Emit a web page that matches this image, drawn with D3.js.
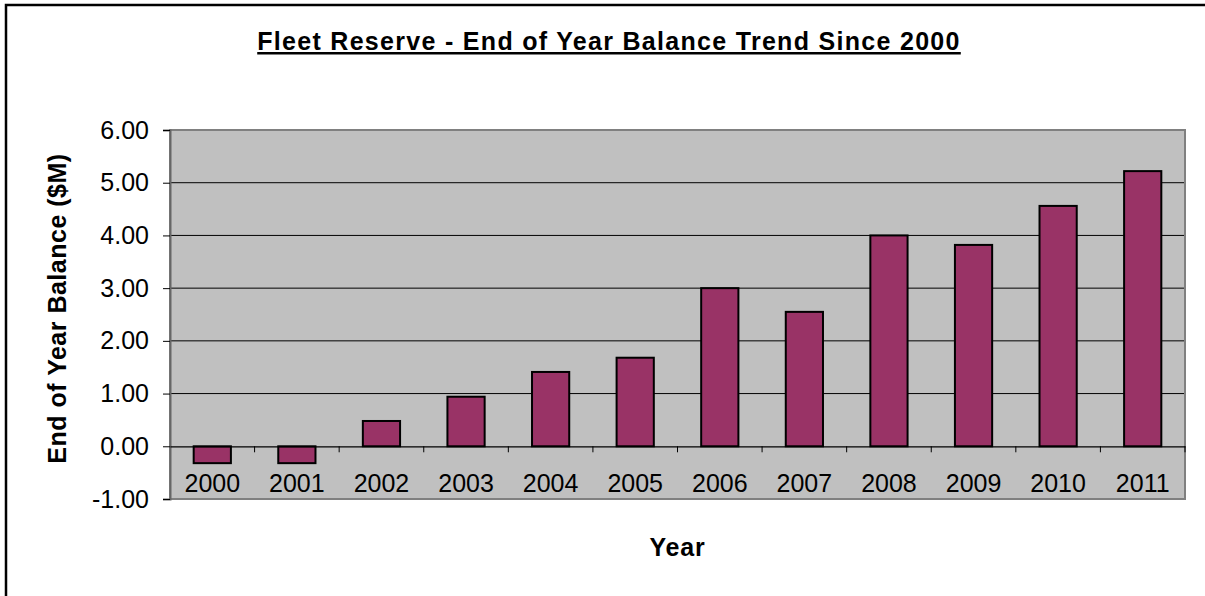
<!DOCTYPE html>
<html>
<head>
<meta charset="utf-8">
<script src="https://cdn.jsdelivr.net/npm/d3@7"></script>
<style>
	body { margin: 0; background: #fff; }
	svg { display: block; font-family: "Liberation Sans", Arial, sans-serif; }
</style>
</head>
<body>
<div id="chart"></div>
<script>
// values
var years = ["2000", "2001", "2002", "2003", "2004", "2005", "2006", "2007", "2008", "2009", "2010", "2011"]
var balance = [-0.32, -0.32, 0.48, 0.94, 1.41, 1.68, 3.00, 2.55, 4.00, 3.82, 4.56, 5.22]
var yTicks = [-1, 0, 1, 2, 3, 4, 5, 6]

var width = 1205
var height = 596
var plot = {left: 170, right: 1185, top: 130, bottom: 499}

var svg = d3.select("#chart").append("svg")
			.attr("width", width)
			.attr("height", height)

// outer frame (right and bottom edges fall outside the picture)
svg.append("rect")
	.attr("x", 6).attr("y", 5)
	.attr("width", 1240).attr("height", 640)
	.attr("fill", "#fff")
	.attr("stroke", "#000")
	.attr("stroke-width", 2.5)

var x = d3.scaleBand()
		.domain(years)
		.range([plot.left, plot.right])
		.paddingInner(0.56)
		.paddingOuter(0.28)

var y = d3.scaleLinear()
		.domain([-1, 6])
		.range([plot.bottom, plot.top])

// plot background
svg.append("rect")
	.attr("x", plot.left).attr("y", plot.top)
	.attr("width", plot.right - plot.left)
	.attr("height", plot.bottom - plot.top)
	.attr("fill", "#c0c0c0")

// gridlines
svg.append("g").selectAll("line")
	.data(yTicks.filter(function(d) { return d > -1 && d < 6 && d != 0; }))
	.enter().append("line")
	.attr("x1", plot.left).attr("x2", plot.right)
	.attr("y1", function(d) { return y(d); })
	.attr("y2", function(d) { return y(d); })
	.attr("stroke", "#000")
	.attr("stroke-width", 1)

// plot border
svg.append("rect")
	.attr("x", plot.left).attr("y", plot.top)
	.attr("width", plot.right - plot.left)
	.attr("height", plot.bottom - plot.top)
	.attr("fill", "none")
	.attr("stroke", "#808080")
	.attr("stroke-width", 2)

// bars
svg.append("g").selectAll("rect")
	.data(balance)
	.enter().append("rect")
	.attr("x", function(d, i) { return x(years[i]); })
	.attr("width", x.bandwidth())
	.attr("y", function(d) { return y(Math.max(0, d)); })
	.attr("height", function(d) { return Math.abs(y(d) - y(0)); })
	.attr("fill", "#993366")
	.attr("stroke", "#000")
	.attr("stroke-width", 2)

// y axis
var yAxis = svg.append("g")
			.attr("transform", "translate(" + plot.left + ",0)")
			.call(d3.axisLeft(y).tickValues(yTicks).tickSize(7).tickPadding(14)
				.tickFormat(function(d) { return d.toFixed(2); }))
yAxis.select(".domain").attr("stroke", "#666").attr("stroke-width", 2)
yAxis.selectAll(".tick line").attr("stroke", "#000")
yAxis.selectAll("text")
	.attr("font-size", 25)
	.attr("fill", "#000")
	.attr("font-family", "Liberation Sans, Arial, sans-serif")

// x axis at zero
var xAxis = svg.append("g")
			.attr("transform", "translate(0," + y(0) + ")")
			.call(d3.axisBottom(x).tickSize(0).tickPadding(28))
xAxis.select(".domain").attr("stroke", "#000").attr("stroke-width", 1.2)
xAxis.selectAll("text")
	.attr("font-size", 25)
	.attr("fill", "#000")
	.attr("font-family", "Liberation Sans, Arial, sans-serif")

// tick marks between categories
var step = x.step()
xAxis.selectAll(".sep")
	.data(years)
	.enter().append("line")
	.attr("class", "sep")
	.attr("x1", function(d) { return x(d) - x.paddingOuter() * step + step; })
	.attr("x2", function(d) { return x(d) - x.paddingOuter() * step + step; })
	.attr("y1", 0).attr("y2", 6)
	.attr("stroke", "#000")

// title
svg.append("text")
	.attr("x", 609).attr("y", 50)
	.attr("text-anchor", "middle")
	.attr("font-size", 25)
	.attr("font-weight", "bold")
	.attr("letter-spacing", 1.3)
	.attr("text-decoration", "underline")
	.text("Fleet Reserve - End of Year Balance Trend Since 2000")

svg.append("text")
	.attr("transform", "translate(66," + ((plot.top + plot.bottom) / 2 - 6) + ") rotate(-90)")
	.attr("text-anchor", "middle")
	.attr("font-size", 25)
	.attr("font-weight", "bold")
	.attr("letter-spacing", 0.5)
	.text("End of Year Balance ($M)")

svg.append("text")
	.attr("x", (plot.left + plot.right) / 2).attr("y", 556)
	.attr("text-anchor", "middle")
	.attr("font-size", 25)
	.attr("font-weight", "bold")
	.attr("letter-spacing", 0.8)
	.text("Year")
</script>
</body>
</html>
